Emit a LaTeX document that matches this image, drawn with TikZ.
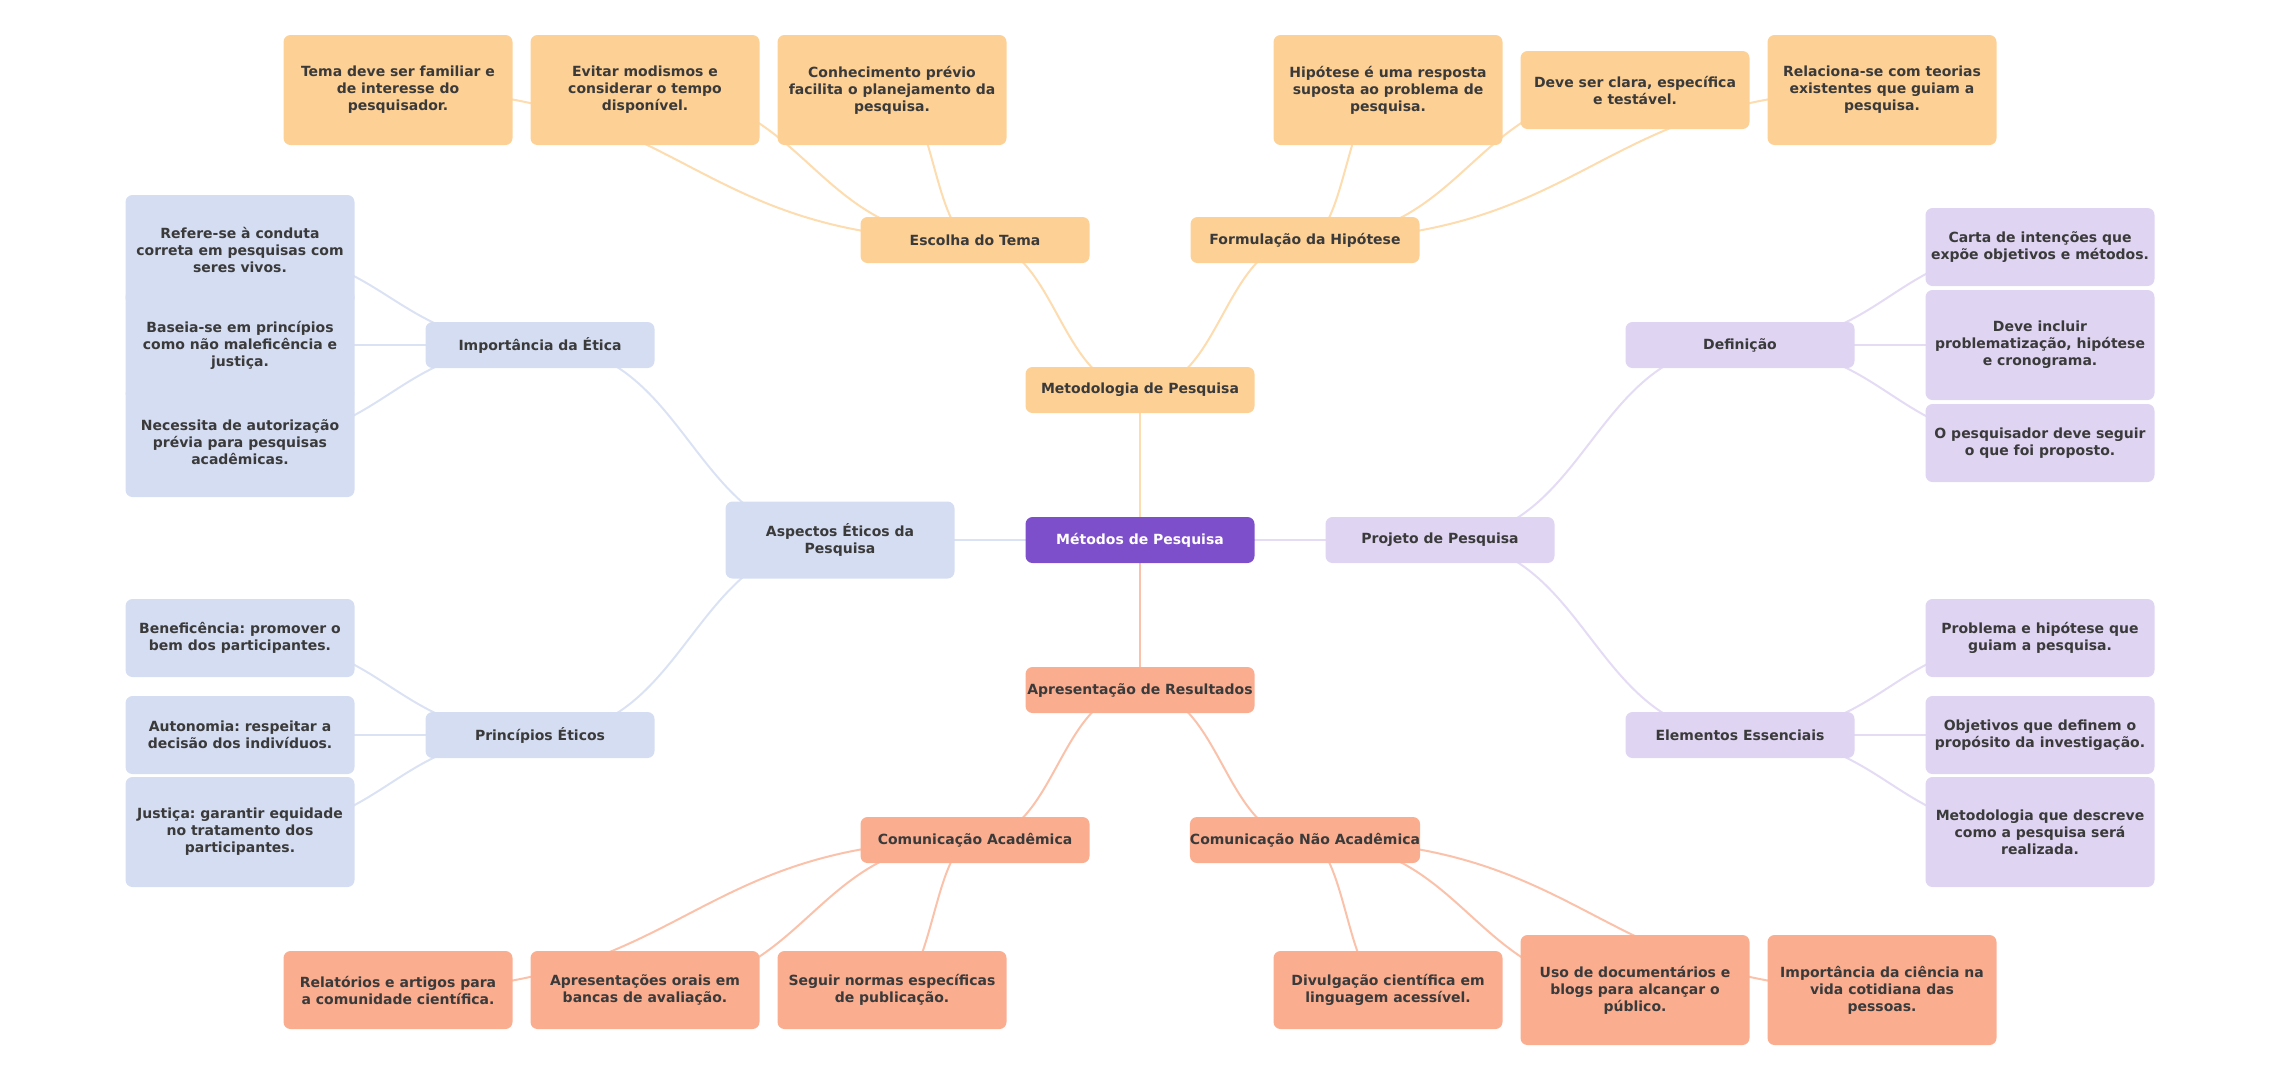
\documentclass[tikz,border=0pt]{standalone}
\usepackage{fontspec}
\setmainfont{DejaVu Sans}
\usepackage{tikz}
\usetikzlibrary{backgrounds}
\frenchspacing
\definecolor{rootColor}{HTML}{7E4FCB}
\definecolor{orangeColor}{HTML}{FDD095}
\definecolor{salmonColor}{HTML}{FAAD8F}
\definecolor{blueColor}{HTML}{D5DDF2}
\definecolor{lilacColor}{HTML}{DFD4F2}
\definecolor{textColor}{HTML}{3A3A3A}
\newcommand{\linkNodes}[3]{%
  \path (#2.center) -- (#3.center) coordinate[pos=0.5] (#2-#3-mid);
  \draw[#1] (#2.center) .. controls (#2-#3-mid |- #2.center) and (#2-#3-mid |- #3.center) .. (#3.center);
}

\begin{document}
\begin{tikzpicture}[x=1pt,y=-1pt]

          \tikzstyle{baseNode} = [rounded corners=7pt, minimum width=229pt, minimum height=46pt, inner sep=0pt, align=center, text=textColor, font=\fontsize{14}{17}\selectfont\bfseries];
          \tikzstyle{rootNode} = [baseNode, fill=rootColor, text=white];
          \tikzstyle{orangeNode} = [baseNode, fill=orangeColor];
          \tikzstyle{salmonNode} = [baseNode, fill=salmonColor];
          \tikzstyle{blueNode} = [baseNode, fill=blueColor];
          \tikzstyle{lilacNode} = [baseNode, fill=lilacColor];
          \tikzstyle{shortLeaf} = [minimum height=78pt];
          \tikzstyle{tallLeaf} = [minimum height=110pt];

          \tikzstyle{orangeEdge} = [line width=2pt, orangeColor!75!white];
          \tikzstyle{salmonEdge} = [line width=2pt, salmonColor!75!white];
          \tikzstyle{blueEdge} = [line width=2pt, blueColor!85!white];
          \tikzstyle{lilacEdge} = [line width=2pt, lilacColor!85!white];

          \useasboundingbox (0,0) rectangle (2280,1080);

          \node[rootNode] (root) at (1140,540) {Métodos de Pesquisa};
          \node[orangeNode] (met) at (1140,390) {Metodologia de Pesquisa};
          \node[salmonNode] (apr) at (1140,690) {Apresentação de Resultados};
          \node[blueNode, minimum height=77pt] (asp) at (840,540) {Aspectos Éticos da\\Pesquisa};
          \node[lilacNode] (proj) at (1440,540) {Projeto de Pesquisa};

          \node[orangeNode] (esc) at (975,240) {Escolha do Tema};
          \node[orangeNode] (form) at (1305,240) {Formulação da Hipótese};
          \node[salmonNode] (comA) at (975,840) {Comunicação Acadêmica};
          \node[salmonNode] (comN) at (1305,840) {Comunicação Não Acadêmica};
          \node[blueNode] (imp) at (540,345) {Importância da Ética};
          \node[blueNode] (princ) at (540,735) {Princípios Éticos};
          \node[lilacNode] (defi) at (1740,345) {Definição};
          \node[lilacNode] (elem) at (1740,735) {Elementos Essenciais};

          \node[orangeNode, tallLeaf] (escA) at (398,90) {Tema deve ser familiar e\\de interesse do\\pesquisador.};
          \node[orangeNode, tallLeaf] (escB) at (645,90) {Evitar modismos e\\considerar o tempo\\disponível.};
          \node[orangeNode, tallLeaf] (escC) at (892,90) {Conhecimento prévio\\facilita o planejamento da\\pesquisa.};
          \node[orangeNode, tallLeaf] (formA) at (1388,90) {Hipótese é uma resposta\\suposta ao problema de\\pesquisa.};
          \node[orangeNode, shortLeaf] (formB) at (1635,90) {Deve ser clara, específica\\e testável.};
          \node[orangeNode, tallLeaf] (formC) at (1882,90) {Relaciona-se com teorias\\existentes que guiam a\\pesquisa.};

          \node[blueNode, tallLeaf] (impA) at (240,250) {Refere-se à conduta\\correta em pesquisas com\\seres vivos.};
          \node[blueNode, tallLeaf] (impB) at (240,345) {Baseia-se em princípios\\como não maleficência e\\justiça.};
          \node[blueNode, tallLeaf] (impC) at (240,442) {Necessita de autorização\\prévia para pesquisas\\acadêmicas.};
          \node[blueNode, shortLeaf] (princA) at (240,638) {Beneficência: promover o\\bem dos participantes.};
          \node[blueNode, shortLeaf] (princB) at (240,735) {Autonomia: respeitar a\\decisão dos indivíduos.};
          \node[blueNode, tallLeaf] (princC) at (240,832) {Justiça: garantir equidade\\no tratamento dos\\participantes.};

          \node[lilacNode, shortLeaf] (defA) at (2040,247) {Carta de intenções que\\expõe objetivos e métodos.};
          \node[lilacNode, tallLeaf] (defB) at (2040,345) {Deve incluir\\problematização, hipótese\\e cronograma.};
          \node[lilacNode, shortLeaf] (defC) at (2040,443) {O pesquisador deve seguir\\o que foi proposto.};
          \node[lilacNode, shortLeaf] (elemA) at (2040,638) {Problema e hipótese que\\guiam a pesquisa.};
          \node[lilacNode, shortLeaf] (elemB) at (2040,735) {Objetivos que definem o\\propósito da investigação.};
          \node[lilacNode, tallLeaf] (elemC) at (2040,832) {Metodologia que descreve\\como a pesquisa será\\realizada.};

          \node[salmonNode, shortLeaf] (comAA) at (398,990) {Relatórios e artigos para\\a comunidade científica.};
          \node[salmonNode, shortLeaf] (comAB) at (645,990) {Apresentações orais em\\bancas de avaliação.};
          \node[salmonNode, shortLeaf] (comAC) at (892,990) {Seguir normas específicas\\de publicação.};
          \node[salmonNode, shortLeaf] (comNA) at (1388,990) {Divulgação científica em\\linguagem acessível.};
          \node[salmonNode, tallLeaf] (comNB) at (1635,990) {Uso de documentários e\\blogs para alcançar o\\público.};
          \node[salmonNode, tallLeaf] (comNC) at (1882,990) {Importância da ciência na\\vida cotidiana das\\pessoas.};

          \begin{pgfonlayer}{background}
          \linkNodes{orangeEdge}{root}{met}
          \linkNodes{salmonEdge}{root}{apr}
          \linkNodes{blueEdge}{root}{asp}
          \linkNodes{lilacEdge}{root}{proj}

          \linkNodes{orangeEdge}{met}{esc}
          \linkNodes{orangeEdge}{met}{form}
          \linkNodes{salmonEdge}{apr}{comA}
          \linkNodes{salmonEdge}{apr}{comN}
          \linkNodes{blueEdge}{asp}{imp}
          \linkNodes{blueEdge}{asp}{princ}
          \linkNodes{lilacEdge}{proj}{defi}
          \linkNodes{lilacEdge}{proj}{elem}

          \linkNodes{orangeEdge}{esc}{escA}
          \linkNodes{orangeEdge}{esc}{escB}
          \linkNodes{orangeEdge}{esc}{escC}
          \linkNodes{orangeEdge}{form}{formA}
          \linkNodes{orangeEdge}{form}{formB}
          \linkNodes{orangeEdge}{form}{formC}
          \linkNodes{blueEdge}{imp}{impA}
          \linkNodes{blueEdge}{imp}{impB}
          \linkNodes{blueEdge}{imp}{impC}
          \linkNodes{blueEdge}{princ}{princA}
          \linkNodes{blueEdge}{princ}{princB}
          \linkNodes{blueEdge}{princ}{princC}
          \linkNodes{lilacEdge}{defi}{defA}
          \linkNodes{lilacEdge}{defi}{defB}
          \linkNodes{lilacEdge}{defi}{defC}
          \linkNodes{lilacEdge}{elem}{elemA}
          \linkNodes{lilacEdge}{elem}{elemB}
          \linkNodes{lilacEdge}{elem}{elemC}
          \linkNodes{salmonEdge}{comA}{comAA}
          \linkNodes{salmonEdge}{comA}{comAB}
          \linkNodes{salmonEdge}{comA}{comAC}
          \linkNodes{salmonEdge}{comN}{comNA}
          \linkNodes{salmonEdge}{comN}{comNB}
          \linkNodes{salmonEdge}{comN}{comNC}
          \end{pgfonlayer}
        \end{tikzpicture}
\end{document}
